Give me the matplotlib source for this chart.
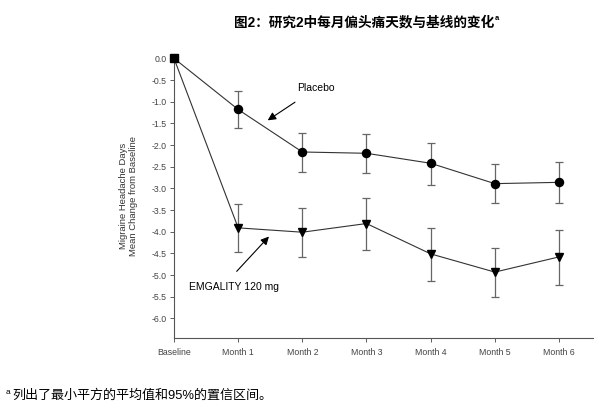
import matplotlib
matplotlib.use("Agg")
import matplotlib.pyplot as plt

plt.rcParams['font.family'] = ['Liberation Sans', 'Noto Sans CJK SC', 'DejaVu Sans']

# data
labels = ["Baseline", "Month 1", "Month 2", "Month 3", "Month 4", "Month 5", "Month 6"]
placebo = [0.0, -1.18, -2.16, -2.19, -2.42, -2.89, -2.86]
placebo_hi = [0.0, -0.75, -1.72, -1.74, -1.96, -2.44, -2.38]
placebo_lo = [0.0, -1.60, -2.61, -2.65, -2.91, -3.34, -3.33]
emg = [0.0, -3.91, -4.01, -3.81, -4.51, -4.93, -4.58]
emg_hi = [0.0, -3.35, -3.45, -3.23, -3.91, -4.37, -3.97]
emg_lo = [0.0, -4.47, -4.59, -4.41, -5.14, -5.51, -5.22]
yticks = [0.0, -0.5, -1.0, -1.5, -2.0, -2.5, -3.0, -3.5, -4.0, -4.5, -5.0, -5.5, -6.0]

x = list(range(len(labels)))

fig = plt.figure(figsize=(6.01, 4.19), dpi=100)
ax = fig.add_axes([174/601, 1-338/419, (593-174)/601, (338-54)/419])

lc = "#333333"
ec = "#666666"

for vals, hi, lo, mk, ms in [(placebo, placebo_hi, placebo_lo, "o", 5.8), (emg, emg_hi, emg_lo, "v", 5.5)]:
    err = [[v - l for v, l in zip(vals[1:], lo[1:])], [h - v for v, h in zip(vals[1:], hi[1:])]]
    ax.errorbar(x[1:], vals[1:], yerr=err, fmt="none", ecolor=ec, elinewidth=0.9,
                capsize=3, capthick=0.9, zorder=2)
    ax.plot(x, vals, color=lc, lw=0.8, zorder=3)
    ax.plot(x[1:], vals[1:], linestyle="none", marker=mk, color="black", ms=ms, zorder=4)

ax.plot(x[0], placebo[0], marker="s", color="black", ms=5.5, zorder=5, clip_on=False)

ax.set_xlim(0, 6.53)
ax.set_ylim(-6.45, 0.1)
ax.set_xticks(x)
ax.set_xticklabels(labels)
ax.set_yticks(yticks)
ax.set_yticklabels(["%.1f" % v for v in yticks])
ax.tick_params(labelsize=6.3, colors="#444444", length=3, width=0.6, pad=2)
ax.tick_params(axis="x", pad=4)
for s in ["top", "right"]:
    ax.spines[s].set_visible(False)
for s in ["left", "bottom"]:
    ax.spines[s].set_color("#555555")
    ax.spines[s].set_linewidth(0.8)

ax.set_ylabel("Migraine Headache Days\nMean Change from Baseline", fontsize=6.8,
              color="#333333", labelpad=10, linespacing=1.1)

ax.annotate("Placebo", xy=(1.46, -1.43), xytext=(1.92, -0.69), fontsize=7.5,
            ha="left", va="center",
            arrowprops=dict(arrowstyle="-|>", color="black", lw=0.8, mutation_scale=12,
                            shrinkA=8, shrinkB=0))
ax.annotate("EMGALITY 120 mg", xy=(1.48, -4.11), xytext=(0.23, -5.28), fontsize=7.5,
            ha="left", va="center",
            arrowprops=dict(arrowstyle="-|>", color="black", lw=0.8, mutation_scale=12,
                            shrinkA=8, shrinkB=0, relpos=(0.42, 1.0)))

title = fig.text(234/601, 1-22/419, "图2：研究2中每月偏头痛天数与基线的变化",
                 fontsize=9.8, fontweight="bold", ha="left", va="center")
fig.canvas.draw()
bb = title.get_window_extent()
fig.text(bb.x1/601 + 0.001, 1-19/419, "a", fontsize=5.5, fontweight="bold",
         ha="left", va="center")

fig.text(6/601, 1-392/419, "a", fontsize=6, ha="left", va="center")
fig.text(12/601, 1-396/419, "列出了最小平方的平均值和95%的置信区间。",
         fontsize=9.4, ha="left", va="center")

fig.savefig("out.png", dpi=100)
